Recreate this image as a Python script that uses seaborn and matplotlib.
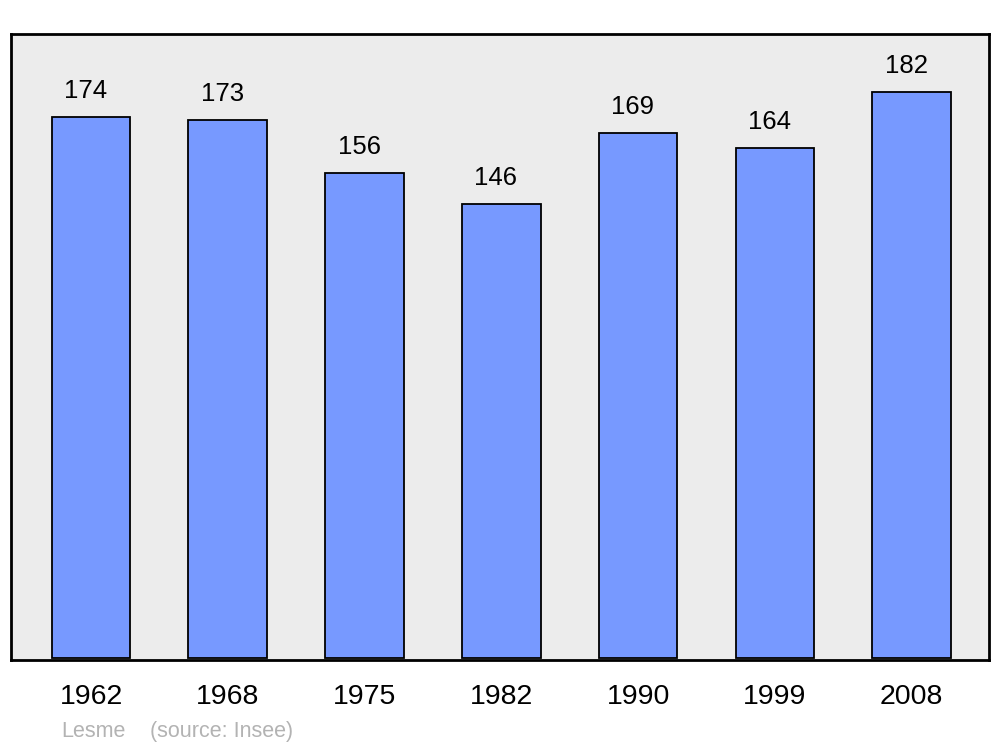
import matplotlib
matplotlib.use("Agg")
from matplotlib import pyplot as plt
import seaborn as sns
import pandas as pd

years = ["1962", "1968", "1975", "1982", "1990", "1999", "2008"]
population = [174, 173, 156, 146, 169, 164, 182]

df = pd.DataFrame({"Year": years, "Population": population})

sns.set_style("white")
plt.rcParams["font.family"] = ["Liberation Sans", "DejaVu Sans"]
plt.rcParams["text.color"] = "black"
plt.rcParams["xtick.color"] = "black"

fig = plt.figure(figsize=(10, 7.47), dpi=100)
ax = fig.add_axes([0.011, 0.1165, 0.978, 0.838])
ax.set_facecolor("#ececec")

sns.barplot(data=df, x="Year", y="Population", color="#7799ff", width=0.575,
            edgecolor="black", linewidth=1.3, saturation=1, ax=ax)

# value labels above bars (sit a bit left of bar centre, like the original)
for i, v in enumerate(population):
    ax.text(i - 0.04, v + 8.4, str(v), ha="center", va="center", fontsize=18.5, color="black")

ax.set_xlim(-0.585, 6.565)
ax.set_ylim(-0.6, 200.8)
ax.set_xlabel("")
ax.set_ylabel("")
ax.set_yticks([])
ax.tick_params(axis="x", length=0, pad=17, labelsize=20.5, labelcolor="black")

for s in ax.spines.values():
    s.set_visible(True)
    s.set_linewidth(2)
    s.set_color("black")

fig.text(0.061, 0.013, "Lesme", fontsize=15.5, color="#b3b3b3", va="baseline")
fig.text(0.150, 0.013, "(source: Insee)", fontsize=15.5, color="#b3b3b3", va="baseline")

fig.savefig("out.png", dpi=100, facecolor="white")
